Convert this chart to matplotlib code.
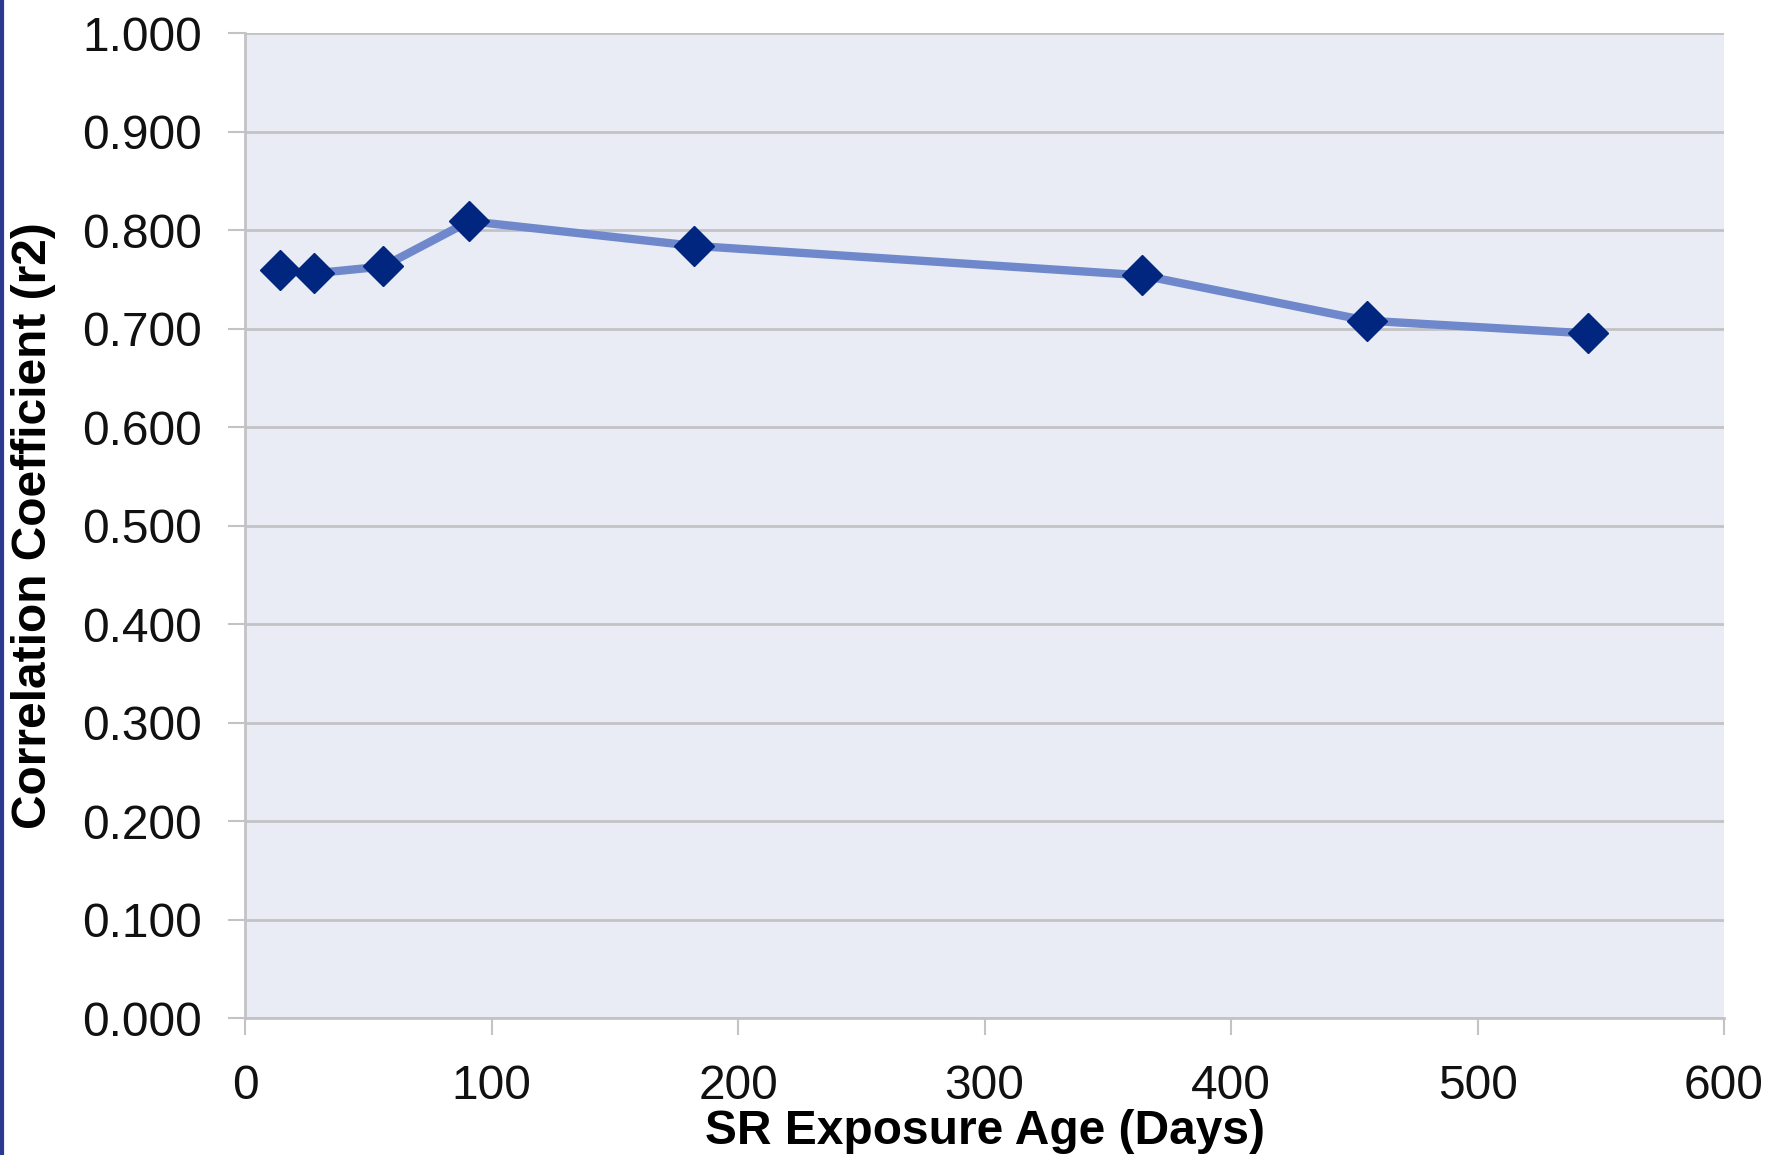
import numpy as np
import matplotlib
matplotlib.use("Agg")
import matplotlib.pyplot as plt
from matplotlib.ticker import FormatStrFormatter
from matplotlib.lines import Line2D

# Exposure age (days) and correlation coefficient at each age
age_days = [14, 28, 56, 91, 182, 364, 455, 545]
r2 = [0.759, 0.756, 0.763, 0.809, 0.784, 0.754, 0.708, 0.695]

x_ticks = [0, 100, 200, 300, 400, 500, 600]
y_ticks = np.arange(0, 1.01, 0.1)

plt.rcParams['font.family'] = ['Liberation Sans', 'DejaVu Sans']

fig = plt.figure(figsize=(17.67, 11.55), dpi=100)
ax = fig.add_axes([0.1387, 0.1186, 0.9757 - 0.1387, 0.9714 - 0.1186])

grid_col = '#c3c3c6'
ax.set_facecolor('#e9ecf5')
ax.set_xlim(0, 600)
ax.set_ylim(0, 1.0)
ax.set_xticks(x_ticks)
ax.set_yticks(y_ticks)
ax.yaxis.set_major_formatter(FormatStrFormatter('%.3f'))

# horizontal gridlines only
ax.grid(True, axis='y', color=grid_col, lw=2, zorder=0)
ax.set_axisbelow(True)

for side in ['top', 'right']:
    ax.spines[side].set_visible(False)
for side in ['left', 'bottom']:
    ax.spines[side].set_color(grid_col)
    ax.spines[side].set_linewidth(2)

ax.tick_params(axis='y', direction='out', length=12, width=1.5, color=grid_col,
               pad=19, labelsize=34.5, labelcolor='#111111')
ax.tick_params(axis='x', direction='out', length=12, width=1.5, color=grid_col,
               pad=21, labelsize=34.5, labelcolor='#111111')

ax.plot(age_days, r2, color='#6f88cc', lw=6, zorder=3)
ax.plot(age_days, r2, linestyle='none', marker='D', markersize=20,
        color='#00267f', zorder=4)

ax.set_xlabel('SR Exposure Age (Days)', fontsize=34.5, fontweight='bold')
ax.xaxis.set_label_coords(0.5, -0.092)
ax.set_ylabel('Correlation Coefficient (r2)', fontsize=34.5, fontweight='bold')
ax.yaxis.set_label_coords(-0.128, 0.5)

# thin blue border line down the left edge
fig.add_artist(Line2D([0.001, 0.001], [0, 1], transform=fig.transFigure,
                      color='#2b3990', lw=3))

fig.savefig('out.png', dpi=100)
